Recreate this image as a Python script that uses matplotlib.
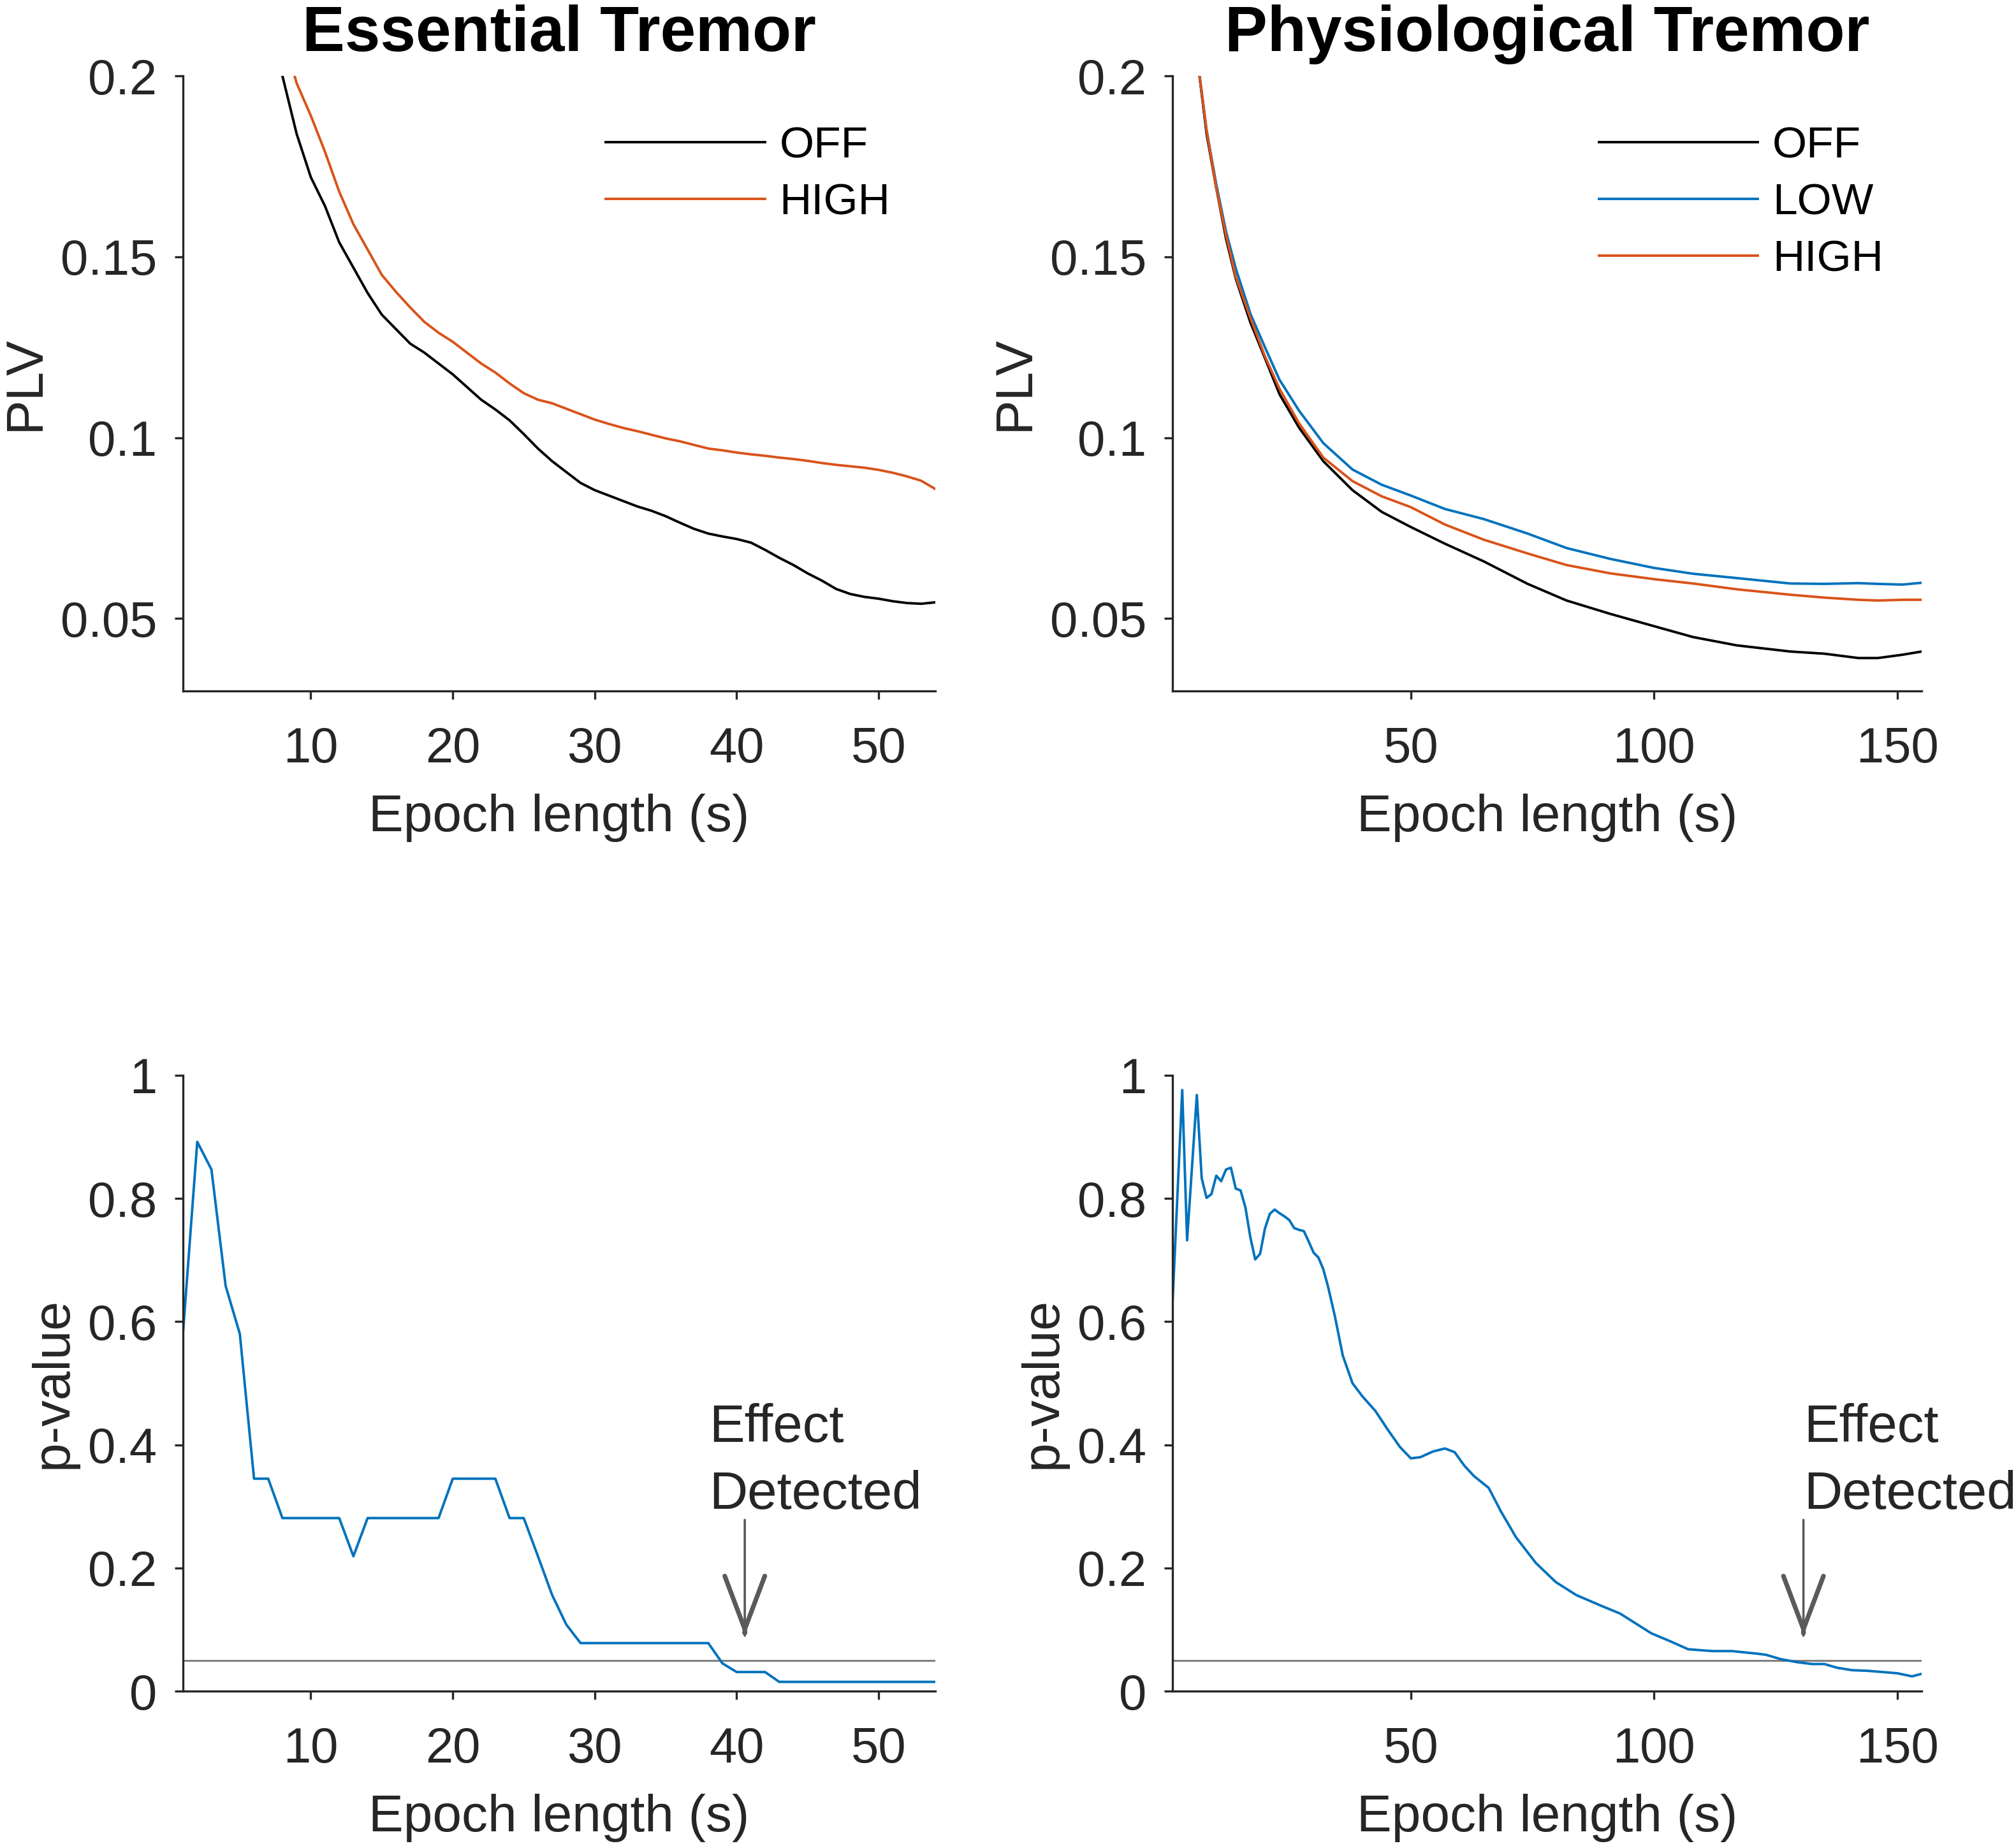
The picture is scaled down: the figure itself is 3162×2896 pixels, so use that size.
import matplotlib
matplotlib.use("Agg")
import matplotlib.pyplot as plt

plt.rcParams['font.family'] = ['Liberation Sans', 'DejaVu Sans']

# ---- data: Essential Tremor, PLV vs epoch length ----
et_x = list(range(7, 55))
et_off = [0.215, 0.200, 0.184, 0.172, 0.164, 0.154, 0.147, 0.140, 0.134, 0.130,
          0.126, 0.1235, 0.1205, 0.1175, 0.1140, 0.1105, 0.1078, 0.1048, 0.1010, 0.0970,
          0.0935, 0.0905, 0.0875, 0.0855, 0.0840, 0.0825, 0.0810, 0.0798, 0.0783, 0.0765,
          0.0748, 0.0735, 0.0727, 0.0720, 0.0710, 0.0690, 0.0668, 0.0648, 0.0625, 0.0605,
          0.0582, 0.0568, 0.0560, 0.0555, 0.0548, 0.0543, 0.0541, 0.0545]
et_high = [0.225, 0.212, 0.198, 0.189, 0.179, 0.168, 0.159, 0.152, 0.145, 0.1403,
           0.136, 0.132, 0.129, 0.1265, 0.1235, 0.1205, 0.118, 0.115, 0.1123, 0.1105,
           0.1095, 0.108, 0.1065, 0.105, 0.1038, 0.1027, 0.1018, 0.1008, 0.0998, 0.0990,
           0.0980, 0.0970, 0.0965, 0.0959, 0.0954, 0.0950, 0.0945, 0.0941, 0.0936, 0.0930,
           0.0925, 0.0921, 0.0917, 0.0911, 0.0903, 0.0893, 0.0881, 0.0858]

# ---- data: Physiological Tremor, PLV vs epoch length ----
pt_x = [6, 8, 10, 12, 14, 17, 20, 23, 27, 32, 38, 44, 50, 57, 65, 74, 82, 91,
        100, 108, 117, 128, 135, 142, 146, 151, 155]
pt_off = [0.206, 0.184, 0.169, 0.155, 0.144, 0.1319, 0.122, 0.112, 0.1028, 0.0935,
          0.0855, 0.0795, 0.0753, 0.0707, 0.0658, 0.0596, 0.0550, 0.0513,
          0.0479, 0.0449, 0.0426, 0.0409, 0.0403, 0.0391, 0.0391, 0.0400, 0.0409]
pt_low = [0.206, 0.185, 0.170, 0.157, 0.1468, 0.1343, 0.125, 0.116, 0.1075, 0.0985,
          0.0912, 0.0870, 0.0840, 0.0803, 0.0775, 0.0735, 0.0695, 0.0665,
          0.0640, 0.0624, 0.0612, 0.0597, 0.0596, 0.0598, 0.0596, 0.0594, 0.0599]
pt_high = [0.206, 0.185, 0.169, 0.156, 0.1445, 0.1331, 0.1225, 0.1135, 0.104, 0.0945,
           0.0880, 0.0838, 0.0808, 0.0760, 0.0718, 0.0680, 0.0648, 0.0625,
           0.0609, 0.0597, 0.0581, 0.0566, 0.0558, 0.0552, 0.0550, 0.0552, 0.0552]

# ---- data: p-values ----
et_p_x = list(range(1, 55))
et_p = [0.583, 0.892, 0.847, 0.658, 0.580, 0.345, 0.345, 0.281, 0.281, 0.281,
        0.281, 0.281, 0.219, 0.281, 0.281, 0.281, 0.281, 0.281, 0.281, 0.345,
        0.345, 0.345, 0.345, 0.281, 0.281, 0.219, 0.156, 0.108, 0.078, 0.078,
        0.078, 0.078, 0.078, 0.078, 0.078, 0.078, 0.078, 0.078, 0.045, 0.031,
        0.031, 0.031, 0.015, 0.015, 0.015, 0.015, 0.015, 0.015, 0.015, 0.015,
        0.015, 0.015, 0.015, 0.015]

pt_p_x = [1, 3, 4, 6, 7, 8, 9, 10, 11, 12, 13, 14, 15, 16, 17, 18, 19, 20, 21, 22,
          23, 24, 25, 26, 27, 28, 29, 30, 31, 32, 33, 34.4, 36, 38, 40, 42.7, 45.3,
          47.8, 50, 52, 54.5, 57, 59, 61, 63, 66, 68.5, 71.6, 75.7, 79.8, 84, 89,
          93, 96, 99.4, 103.6, 107, 112, 116, 121, 123, 126, 129.4, 132.5, 135,
          137.6, 140.7, 143.8, 147, 150, 153, 155]
pt_p = [0.63, 0.976, 0.732, 0.968, 0.833, 0.801, 0.807, 0.837, 0.828, 0.847, 0.850,
        0.816, 0.813, 0.785, 0.737, 0.701, 0.710, 0.751, 0.775, 0.782, 0.776, 0.771,
        0.765, 0.752, 0.749, 0.747, 0.730, 0.712, 0.704, 0.685, 0.656, 0.608, 0.545,
        0.500, 0.479, 0.455, 0.424, 0.396, 0.378, 0.380, 0.389, 0.394, 0.388, 0.366,
        0.349, 0.330, 0.292, 0.250, 0.208, 0.177, 0.156, 0.139, 0.126, 0.111, 0.094,
        0.080, 0.068, 0.065, 0.065, 0.061, 0.059, 0.052, 0.047, 0.044, 0.044, 0.038,
        0.034, 0.033, 0.031, 0.029, 0.024, 0.028]

alpha = 0.05
effect_x = [40.57, 130.7]
effect_text_x = [38.05, 130.8]

plv_ticks = [0.05, 0.1, 0.15, 0.2]
plv_labels = ['0.05', '0.1', '0.15', '0.2']
p_ticks = [0, 0.2, 0.4, 0.6, 0.8, 1]
p_labels = ['0', '0.2', '0.4', '0.6', '0.8', '1']

BLACK = 'black'
BLUE = '#0072BD'
ORANGE = '#D95319'
AX_COL = '#262626'
ARROW_COL = '#5a5a5a'

fig = plt.figure(figsize=(15.81, 14.48), dpi=200)
ax_et = fig.add_axes([0.0908, 0.6257, 0.3732, 0.3332])
ax_pt = fig.add_axes([0.5816, 0.6257, 0.3716, 0.3332])
ax_etp = fig.add_axes([0.0908, 0.0839, 0.3732, 0.3336])
ax_ptp = fig.add_axes([0.5816, 0.0839, 0.3716, 0.3336])


def style(ax):
    for s in ['top', 'right']:
        ax.spines[s].set_visible(False)
    for s in ['left', 'bottom']:
        ax.spines[s].set_color(AX_COL)
        ax.spines[s].set_linewidth(1.2)
    ax.tick_params(direction='out', length=4.7, width=1.2, colors=AX_COL, labelsize=28)
    ax.tick_params(axis='x', pad=15)
    ax.tick_params(axis='y', pad=10)
    ax.set_xlabel('Epoch length (s)', fontsize=29.5, color=AX_COL, labelpad=12)


lw = 1.4
leg_kw = dict(loc='upper left', frameon=False, fontsize=25, borderpad=0,
              borderaxespad=0, handlelength=3.59, handletextpad=0.33,
              labelspacing=0.36)

# top left
ax_et.plot(et_x, et_off, color=BLACK, lw=lw, label='OFF')
ax_et.plot(et_x, et_high, color=ORANGE, lw=lw, label='HIGH')
ax_et.set_xlim(1, 54)
ax_et.set_ylim(0.03, 0.2)
ax_et.set_xticks([10, 20, 30, 40, 50])
ax_et.set_yticks(plv_ticks)
ax_et.set_yticklabels(plv_labels)
style(ax_et)
ax_et.set_ylabel('PLV', fontsize=29.5, color=AX_COL, labelpad=6)
ax_et.set_title('Essential Tremor', fontsize=36, fontweight='bold', pad=14)
ax_et.legend(bbox_to_anchor=(0.562, 0.919), **leg_kw)

# top right
ax_pt.plot(pt_x, pt_off, color=BLACK, lw=lw, label='OFF')
ax_pt.plot(pt_x, pt_low, color=BLUE, lw=lw, label='LOW')
ax_pt.plot(pt_x, pt_high, color=ORANGE, lw=lw, label='HIGH')
ax_pt.set_xlim(1, 155)
ax_pt.set_ylim(0.03, 0.2)
ax_pt.set_xticks([50, 100, 150])
ax_pt.set_yticks(plv_ticks)
ax_pt.set_yticklabels(plv_labels)
style(ax_pt)
ax_pt.set_ylabel('PLV', fontsize=29.5, color=AX_COL, labelpad=6)
ax_pt.set_title('Physiological Tremor', fontsize=36, fontweight='bold', pad=14)
ax_pt.legend(bbox_to_anchor=(0.569, 0.919), **leg_kw)

# bottom row
bottom = [(ax_etp, et_p_x, et_p, (1, 54), [10, 20, 30, 40, 50]),
          (ax_ptp, pt_p_x, pt_p, (1, 155), [50, 100, 150])]
for i, (ax, xs, ps, xlim, xt) in enumerate(bottom):
    ax.axhline(alpha, color='#808080', lw=1.1)
    ax.plot(xs, ps, color=BLUE, lw=lw)
    ax.set_xlim(*xlim)
    ax.set_ylim(0, 1)
    ax.set_xticks(xt)
    ax.set_yticks(p_ticks)
    ax.set_yticklabels(p_labels)
    style(ax)
    ax.set_ylabel('p-value', fontsize=29.5, color=AX_COL, labelpad=6)
    ex = effect_x[i]
    # thin shaft, then a bolder open head
    ax.annotate('', xy=(ex, 0.09), xytext=(ex, 0.278),
                arrowprops=dict(arrowstyle='-', color=ARROW_COL, lw=1.3,
                                shrinkA=0, shrinkB=0), annotation_clip=False)
    ax.annotate('', xy=(ex, 0.09), xytext=(ex, 0.095),
                arrowprops=dict(arrowstyle='->,head_length=3.0,head_width=1.13',
                                mutation_scale=10, color=ARROW_COL, lw=2.6,
                                shrinkA=0, shrinkB=0), annotation_clip=False)
    ax.text(effect_text_x[i], 0.468, 'Effect\nDetected', fontsize=30, color=AX_COL,
            ha='left', va='top', linespacing=1.45, clip_on=False)

fig.savefig('out.png', dpi=200)
